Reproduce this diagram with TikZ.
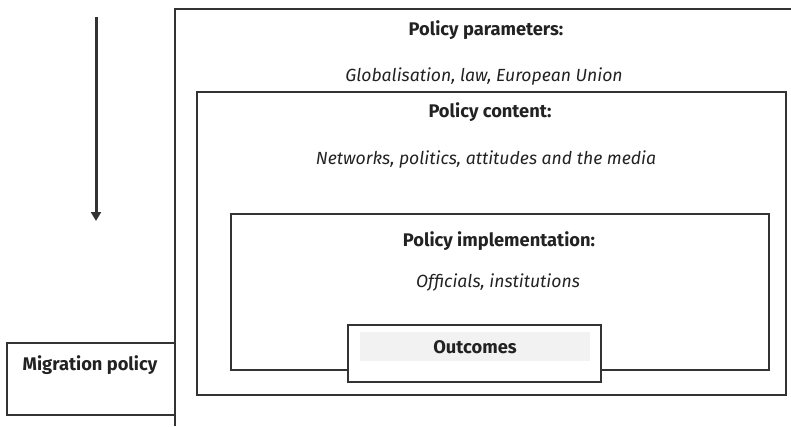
\documentclass[tikz,border=0pt]{standalone}
\usepackage{fontspec}
\setmainfont{Fira Sans}
\usetikzlibrary{arrows.meta}
\definecolor{linec}{HTML}{333333}
\definecolor{textc}{HTML}{222222}
\definecolor{graybg}{HTML}{F2F2F2}
\begin{document}
\begin{tikzpicture}[x=1pt,y=-1pt,
  frame/.style={draw=linec,line width=1.5pt},
  head/.style={font=\fontsize{18.3}{21}\selectfont\bfseries,text=textc,inner sep=0pt},
  sub/.style={font=\fontsize{17.6}{20}\selectfont\itshape,text=textc,inner sep=0pt}]
\useasboundingbox (0,0) rectangle (791,426);
% outer open frame
\draw[frame] (791,9) -- (175,9) -- (175,426);
% policy content box
\draw[frame] (197,92) rectangle (786,395);
% implementation box
\draw[frame] (231,214) rectangle (769,370);
% outcomes box
\node[frame,fill=white,minimum width=253pt,minimum height=57pt,inner sep=0pt] (out) at (474.5,353.5) {};
\node[fill=graybg,minimum width=230pt,minimum height=29pt,inner sep=0pt] (outbg) at (475,346.5) {};
\node[head] (outt) at (475,347) {Outcomes};
% migration policy box
\node[frame,minimum width=168pt,minimum height=72pt,inner sep=0pt] (mig) at (91,379) {};
\node[head] (migt) at (90,365) {Migration policy};
% arrow
\coordinate (a1) at (96,17);
\coordinate (a2) at (96,221);
\draw[linec,line width=3pt,-{Triangle[width=10pt,length=9pt]}] (a1) -- (a2);
% texts
\node[head] (pp) at (486,30) {Policy parameters:};
\node[sub] (ppt) at (484,77) {Globalisation, law, European Union};
\node[head] (pc) at (490,112) {Policy content:};
\node[sub] (pct) at (486,160) {Networks, politics, attitudes and the media};
\node[head] (pi) at (499,241) {Policy implementation:};
\node[sub] (pit) at (498,283) {Officials, institutions};
\end{tikzpicture}
\end{document}
